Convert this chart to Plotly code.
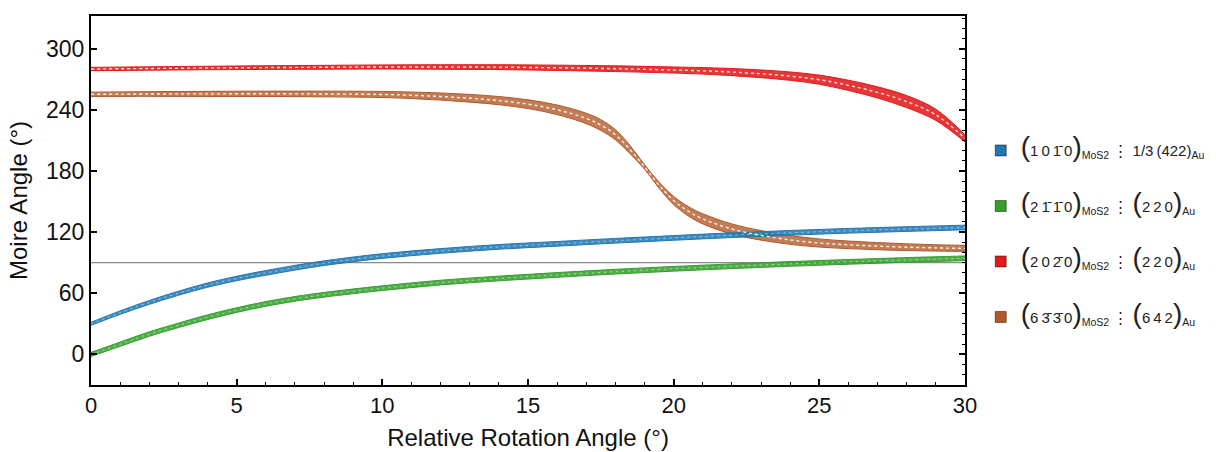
import plotly.graph_objects as go

# ---------------- data ----------------
x_bg = [0, 1, 2, 3, 4, 5, 6, 7, 8, 10, 12, 14, 16, 18, 20, 22, 24, 26, 28, 30]
blue_center = [30, 41, 51, 60, 68, 74.5, 80, 85, 89.5, 96.5, 101.5, 105.5, 108.5, 111.5, 114.3, 117, 119.3, 121.3, 123, 124.5]
blue_half = [1.5, 1.7, 1.9, 2.0, 2.1, 2.2, 2.3, 2.3, 2.3, 2.3, 2.3, 2.3, 2.3, 2.3, 2.3, 2.3, 2.3, 2.3, 2.3, 2.3]
green_center = [0, 10, 20, 28.5, 36.5, 43.5, 49.5, 54.5, 58.5, 65, 70.5, 74.5, 78, 81.2, 84, 86.5, 88.8, 90.8, 92.7, 94.3]
green_half = [2.0, 2.1, 2.2, 2.2, 2.3, 2.3, 2.3, 2.3, 2.3, 2.3, 2.3, 2.3, 2.3, 2.3, 2.3, 2.3, 2.3, 2.3, 2.3, 2.3]

x_red = [0, 2, 4, 6, 8, 10, 12, 14, 16, 18, 20, 21, 22, 23, 24, 25, 26, 27, 28, 29, 30]
red_center = [280, 280.5, 281, 281.4, 281.7, 282, 282, 281.8, 281.2, 280.3, 279, 278.2, 277, 275.3, 273, 269.5, 264, 257, 248, 235, 212]
red_half = [1.6, 1.7, 1.7, 1.8, 1.9, 2.0, 2.2, 2.4, 2.6, 2.8, 3.0, 3.2, 3.5, 3.8, 4.1, 4.5, 5.0, 5.5, 5.9, 5.5, 3.5]

x_brown = [0, 2, 4, 6, 8, 10, 11, 12, 13, 14, 15, 16, 17, 17.5, 18, 18.5, 19, 19.5, 20, 20.5, 21, 22, 23, 24, 25, 26, 27, 28, 29, 30]
brown_center = [255.2, 255.5, 255.6, 255.7, 255.5, 255, 254.2, 253, 251.3, 249, 245.5, 240, 231.5, 225, 215.5, 201, 184, 166, 151, 140.5, 133, 123, 116.8, 112.3, 109.3, 107.5, 106.2, 105.2, 104.5, 104]
brown_half = [2.1, 2.3, 2.5, 2.6, 2.8, 3.0, 3.2, 3.5, 3.8, 4.0, 4.3, 4.7, 5.1, 5.3, 5.0, 4.0, 2.2, 3.0, 4.0, 4.6, 5.0, 5.0, 4.7, 4.3, 4.0, 3.7, 3.5, 3.3, 3.1, 3.0]

ref_angle = 90
x_ticks = [0, 5, 10, 15, 20, 25, 30]
y_ticks = [0, 60, 120, 180, 240, 300]

BIG = '<span style="font-size:28px">'
legend_labels = [
    BIG + '(</span>1\u20090\u20091\u0304\u20090' + BIG + ')</span><sub>MoS2</sub> \u22ee 1/3\u2009(422)<sub>Au</sub>',
    BIG + '(</span>2\u20091\u0304\u20091\u0304\u20090' + BIG + ')</span><sub>MoS2</sub> \u22ee ' + BIG + '(</span>2\u20092\u20090' + BIG + ')</span><sub>Au</sub>',
    BIG + '(</span>2\u20090\u20092\u0304\u20090' + BIG + ')</span><sub>MoS2</sub> \u22ee ' + BIG + '(</span>2\u20092\u20090' + BIG + ')</span><sub>Au</sub>',
    BIG + '(</span>6\u20093\u0304\u20093\u0304\u20090' + BIG + ')</span><sub>MoS2</sub> \u22ee ' + BIG + '(</span>6\u20094\u20092' + BIG + ')</span><sub>Au</sub>',
]

colors = {"blue": "#1f78b4", "green": "#33a02c", "red": "#e31a1c", "brown": "#b15928"}
fills = {"blue": "rgba(31,120,180,0.85)", "green": "rgba(51,160,44,0.85)",
         "red": "rgba(227,26,28,0.88)", "brown": "rgba(177,89,40,0.78)"}
dots = {"blue": "rgba(255,255,255,0.55)", "green": "rgba(255,255,255,0.55)",
        "red": "rgba(255,255,255,0.85)", "brown": "rgba(255,255,255,0.9)"}

series = [
    ("red", x_red, red_center, red_half),
    ("brown", x_brown, brown_center, brown_half),
    ("green", x_bg, green_center, green_half),
    ("blue", x_bg, blue_center, blue_half),
]

fig = go.Figure()

# reference line at 90 deg
fig.add_trace(go.Scatter(x=[x_ticks[0], x_ticks[-1]], y=[ref_angle, ref_angle], mode="lines",
                         line=dict(color="#8a8a8a", width=1.2), showlegend=False, hoverinfo="skip"))

for key, xs, c, h in series:
    lo = [a - b for a, b in zip(c, h)]
    hi = [a + b for a, b in zip(c, h)]
    fig.add_trace(go.Scatter(x=xs, y=lo, mode="lines", line=dict(color=colors[key], width=1, shape="spline"),
                             showlegend=False, hoverinfo="skip"))
    fig.add_trace(go.Scatter(x=xs, y=hi, mode="lines", fill="tonexty", fillcolor=fills[key],
                             line=dict(color=colors[key], width=1, shape="spline"),
                             showlegend=False, hoverinfo="skip"))

for key, xs, c, h in series:
    wide = key in ("red", "brown")
    fig.add_trace(go.Scatter(x=xs, y=c, mode="lines",
                             line=dict(color=dots[key], width=1.4 if wide else 1.0, shape="spline",
                                       dash="3px,3px" if wide else "2px,4px"),
                             showlegend=False, hoverinfo="skip"))

# legend entries
for i, (key, lab) in enumerate(zip(["blue", "green", "red", "brown"], legend_labels)):
    fig.add_trace(go.Scatter(x=[None], y=[None], mode="markers", name=lab, legendgroup=str(i),
                             marker=dict(symbol="square", size=11, color=colors[key],
                                         line=dict(color="rgba(0,0,0,0.45)", width=1))))

# invisible trace for right axis ticks
fig.add_trace(go.Scatter(x=[None], y=[None], yaxis="y2", showlegend=False))

FONT = "Liberation Sans, Arial, sans-serif"
fig.update_layout(
    width=1216, height=452,
    margin=dict(l=91, r=251, t=16, b=67, autoexpand=False),
    paper_bgcolor="white", plot_bgcolor="white",
    font=dict(family=FONT, color="#111"),
    showlegend=True,
    legend=dict(x=1.018, y=0.41, xanchor="left", yanchor="middle", tracegroupgap=33,
                font=dict(family=FONT, size=15, color="#222"), bgcolor="rgba(0,0,0,0)"),
    xaxis=dict(range=[0, 30], tickvals=x_ticks, ticks="inside", ticklen=6, tickwidth=1.5, tickcolor="black",
               minor=dict(dtick=1, ticks="inside", ticklen=3, tickwidth=1.2, tickcolor="black"),
               showline=True, linewidth=2, linecolor="black", mirror=True,
               showgrid=False, zeroline=False, automargin=True,
               tickfont=dict(size=22, family=FONT, color="#111"),
               title=dict(text="Relative Rotation Angle (°)", font=dict(size=24, family=FONT, color="#111"),
                          standoff=12)),
    yaxis=dict(range=[-30, 332], tickvals=y_ticks, ticks="inside", ticklen=6, tickwidth=1.5, tickcolor="black",
               showline=True, linewidth=2, linecolor="black", mirror=True,
               showgrid=False, zeroline=False, automargin=False,
               tickfont=dict(size=23, family=FONT, color="#111"),
               title=dict(text="Moire Angle (°)", font=dict(size=24, family=FONT, color="#111"),
                          standoff=12)),
    yaxis2=dict(range=[-30, 332], overlaying="y", side="right", tickvals=y_ticks, ticks="inside", ticklen=6,
                tickwidth=1.5, tickcolor="black", showticklabels=False,
                minor=dict(dtick=10, ticks="inside", ticklen=3, tickwidth=1.2, tickcolor="black"),
                showline=False, showgrid=False, zeroline=False, automargin=False),
)

fig.write_html("out.html", config={"displayModeBar": False},
               post_script="document.body.style.margin='0';document.body.style.overflow='hidden';")
